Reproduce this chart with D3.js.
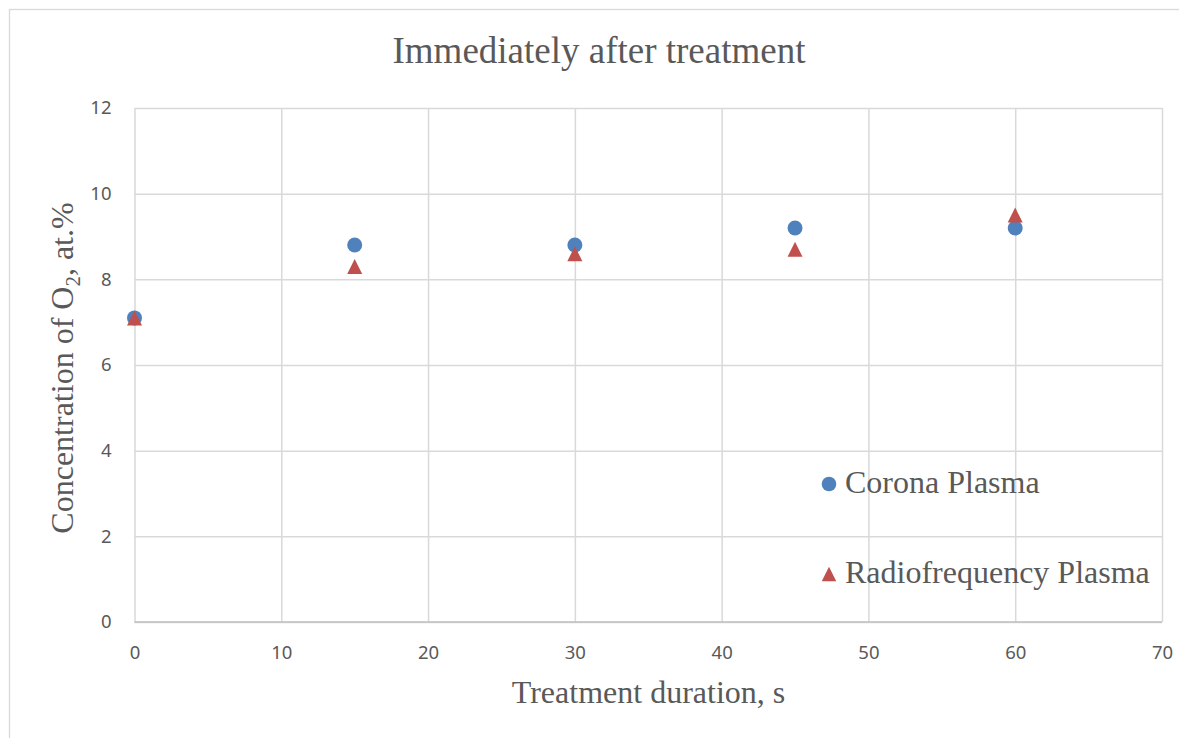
<!DOCTYPE html>
<html>
<head>
<meta charset="utf-8">
<script src="https://cdn.jsdelivr.net/npm/d3@7"></script>
<style>
  html, body { margin: 0; padding: 0; background: #ffffff; }
  svg { display: block; }
</style>
</head>
<body>
<svg id="chart" width="1179" height="738"></svg>
<script>
// ---- data ----
const durations = [0, 15, 30, 45, 60];
const coronaValues = [7.1, 8.8, 8.8, 9.2, 9.2];
const rfValues = [7.1, 8.3, 8.6, 8.7, 9.5];
const seriesNames = ["Corona Plasma", "Radiofrequency Plasma"];
const xTicks = [0, 10, 20, 30, 40, 50, 60, 70];
const yTicks = [0, 2, 4, 6, 8, 10, 12];
const titleText = "Immediately after treatment";
const xTitle = "Treatment duration, s";

// ---- layout ----
const W = 1179, H = 738;
const plot = { left: 134.5, right: 1162, top: 108, bottom: 622 };
const textColor = "#595959";
const gridColor = "#d9d9d9";
const axisColor = "#bfbfbf";
const blue = "#4f81bd";
const red = "#c0504d";

const svg = d3.select("#chart");

// outer chart border
svg.append("rect")
  .attr("x", 9.5).attr("y", 9.5)
  .attr("width", W + 20).attr("height", H + 20)
  .attr("fill", "#ffffff")
  .attr("stroke", "#d9d9d9").attr("stroke-width", 1.3);

const x = d3.scaleLinear().domain([0, 70]).range([plot.left, plot.right]);
const y = d3.scaleLinear().domain([0, 12]).range([plot.bottom, plot.top]);

// gridlines + tick labels via axes
const xAxis = d3.axisBottom(x).tickValues(xTicks)
  .tickSizeInner(-(plot.bottom - plot.top)).tickSizeOuter(0).tickPadding(24)
  .tickFormat(d3.format("d"));
const yAxis = d3.axisLeft(y).tickValues(yTicks)
  .tickSizeInner(-(plot.right - plot.left)).tickSizeOuter(0).tickPadding(23)
  .tickFormat(d3.format("d"));

const gx = svg.append("g").attr("transform", `translate(0,${plot.bottom})`).call(xAxis);
const gy = svg.append("g").attr("transform", `translate(${plot.left},0)`).call(yAxis);

[gx, gy].forEach(g => {
  g.select(".domain").remove();
  g.selectAll(".tick line").attr("stroke", gridColor).attr("stroke-width", 1.5);
  g.selectAll(".tick text")
    .attr("fill", textColor)
    .style("font-family", "'Noto Sans', 'Open Sans', sans-serif")
    .style("font-size", "18.5px");
});
gx.selectAll(".tick text").attr("dy", "0.35em").attr("y", 31);
gy.selectAll(".tick text").attr("x", -23);

// horizontal axis line
svg.append("line")
  .attr("x1", plot.left).attr("x2", plot.right)
  .attr("y1", y(0)).attr("y2", y(0))
  .attr("stroke", axisColor).attr("stroke-width", 1.5);

// title
svg.append("text")
  .attr("x", (391 + 807) / 2).attr("y", 63)
  .attr("text-anchor", "middle")
  .attr("fill", textColor)
  .style("font-family", "'Liberation Serif', 'Times New Roman', serif")
  .style("font-size", "37px")
  .text(titleText);

// x axis title
svg.append("text")
  .attr("x", (513 + 784) / 2).attr("y", 703)
  .attr("text-anchor", "middle")
  .attr("fill", textColor)
  .style("font-family", "'Liberation Serif', 'Times New Roman', serif")
  .style("font-size", "32px")
  .text(xTitle);

// y axis title with subscript
const yt = svg.append("text")
  .attr("transform", `translate(73,368) rotate(-90)`)
  .attr("text-anchor", "middle")
  .attr("fill", textColor)
  .style("font-family", "'Liberation Serif', 'Times New Roman', serif")
  .style("font-size", "32px");
yt.append("tspan").text("Concentration of O");
yt.append("tspan").attr("dy", 7).style("font-size", "21px").text("2");
yt.append("tspan").attr("dy", -7).text(", at.%");

// markers
const triangle = (cx, cy, s) => {
  const h = s / 2;
  return `M${cx},${cy - h}L${cx + h},${cy + h}L${cx - h},${cy + h}Z`;
};

const pts = durations.map((d, i) => ({ d, c: coronaValues[i], r: rfValues[i] }));

svg.append("g").selectAll("circle").data(pts).join("circle")
  .attr("cx", p => x(p.d)).attr("cy", p => y(p.c))
  .attr("r", 7.5).attr("fill", blue);

svg.append("g").selectAll("path").data(pts).join("path")
  .attr("d", p => triangle(x(p.d), y(p.r), 15))
  .attr("fill", red);

// legend
const legend = svg.append("g");
const legendY = [484, 574];
legend.append("circle").attr("cx", 829).attr("cy", legendY[0]).attr("r", 7.3).attr("fill", blue);
legend.append("path").attr("d", triangle(829, legendY[1], 14.5)).attr("fill", red);
seriesNames.forEach((name, i) => {
  legend.append("text")
    .attr("x", 845).attr("y", legendY[i] + 9)
    .attr("fill", textColor)
    .style("font-family", "'Liberation Serif', 'Times New Roman', serif")
    .style("font-size", "32px")
    .text(name);
});
</script>
</body>
</html>
